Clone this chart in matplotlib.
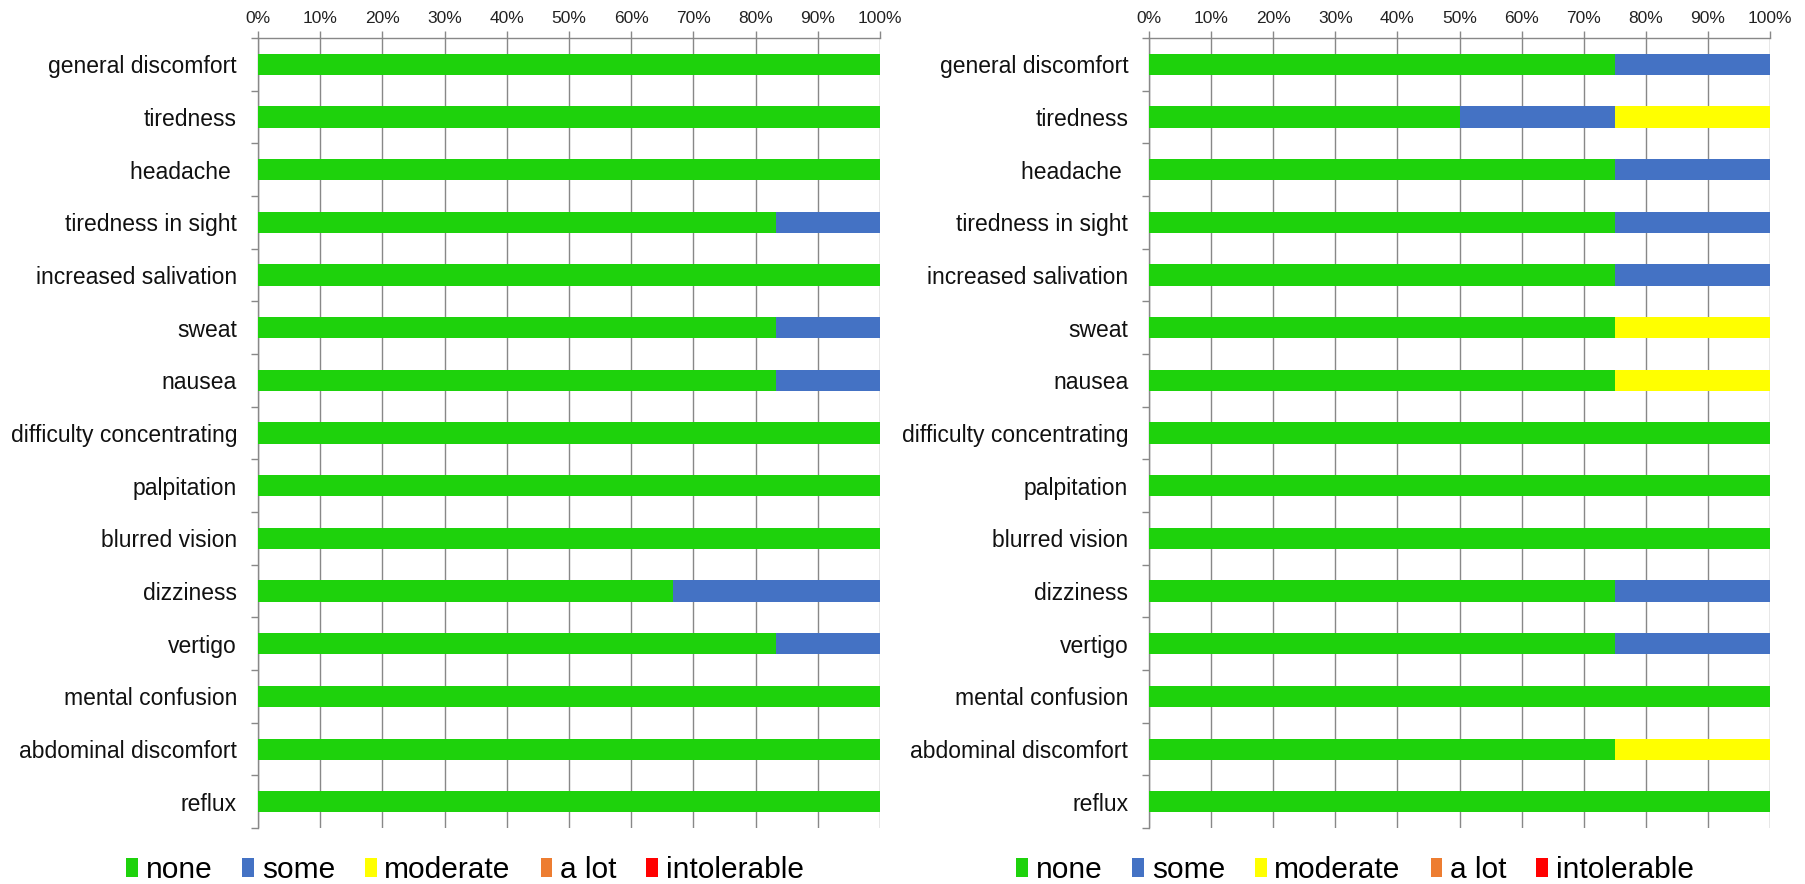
import matplotlib.pyplot as plt
import numpy as np

plt.rcParams['font.family'] = ['Liberation Sans', 'DejaVu Sans']

symptoms = ['general discomfort', 'tiredness', 'headache ', 'tiredness in sight',
            'increased salivation', 'sweat', 'nausea', 'difficulty concentrating',
            'palpitation', 'blurred vision', 'dizziness', 'vertigo',
            'mental confusion', 'abdominal discomfort', 'reflux']
levels = ['none', 'some', 'moderate', 'a lot', 'intolerable']
colors = ['#1ed20c', '#4472c4', '#ffff00', '#ed7d31', '#ff0000']

# left panel (%)
left_none = [100, 100, 100, 83.3, 100, 83.3, 83.3, 100, 100, 100, 66.7, 83.3, 100, 100, 100]
left_some = [0, 0, 0, 16.7, 0, 16.7, 16.7, 0, 0, 0, 33.3, 16.7, 0, 0, 0]
left_moderate = [0] * 15
left_alot = [0] * 15
left_intolerable = [0] * 15

# right panel (%)
right_none = [75, 50, 75, 75, 75, 75, 75, 100, 100, 100, 75, 75, 100, 75, 100]
right_some = [25, 25, 25, 25, 25, 0, 0, 0, 0, 0, 25, 25, 0, 0, 0]
right_moderate = [0, 25, 0, 0, 0, 25, 25, 0, 0, 0, 0, 0, 0, 25, 0]
right_alot = [0] * 15
right_intolerable = [0] * 15

fig = plt.figure(figsize=(18.05, 8.84), dpi=100)
ax1 = fig.add_axes([0.1429, 0.0633, 0.3446, 0.8937])
ax2 = fig.add_axes([0.6366, 0.0633, 0.3440, 0.8937])


def draw(ax, series, legend_x):
    y = np.arange(len(symptoms))
    left = np.zeros(len(symptoms))
    for vals, lab, col in zip(series, levels, colors):
        vals = np.array(vals, dtype=float)
        ax.barh(y, vals, left=left, height=0.4, color=col, label=lab, zorder=3)
        left += vals
    ax.set_xlim(0, 100)
    ax.set_ylim(len(symptoms) - 0.5, -0.5)
    ax.set_xticks(np.arange(0, 101, 10))
    ax.set_xticklabels([f'{v}%' for v in range(0, 101, 10)])
    ax.xaxis.tick_top()
    ax.tick_params(axis='x', length=5, width=1, color='#888888', pad=4,
                   labelsize=12.5, labelcolor='#222222')
    ax.set_yticks(y)
    ax.set_yticklabels(symptoms)
    ax.set_yticks(np.arange(-0.5, len(symptoms)), minor=True)
    ax.tick_params(axis='y', which='major', length=0, pad=15, labelsize=16.5,
                   labelcolor='#111111')
    ax.tick_params(axis='y', which='minor', length=5, width=1, color='#888888')
    ax.grid(axis='x', color='#888888', linewidth=1, zorder=0)
    for s in ['right', 'bottom']:
        ax.spines[s].set_visible(False)
    for s in ['top', 'left']:
        ax.spines[s].set_color('#888888')
        ax.spines[s].set_linewidth(1)
    ax.legend(loc='center', bbox_to_anchor=(legend_x, 0.016), bbox_transform=fig.transFigure,
              ncol=5, frameon=False, fontsize=21.5, handlelength=0.4, handleheight=0.6,
              handletextpad=0.25, columnspacing=1.0, borderpad=0)


draw(ax1, [left_none, left_some, left_moderate, left_alot, left_intolerable], 465 / 1805)
draw(ax2, [right_none, right_some, right_moderate, right_alot, right_intolerable], 1355 / 1805)

fig.savefig('out.png', dpi=100)
